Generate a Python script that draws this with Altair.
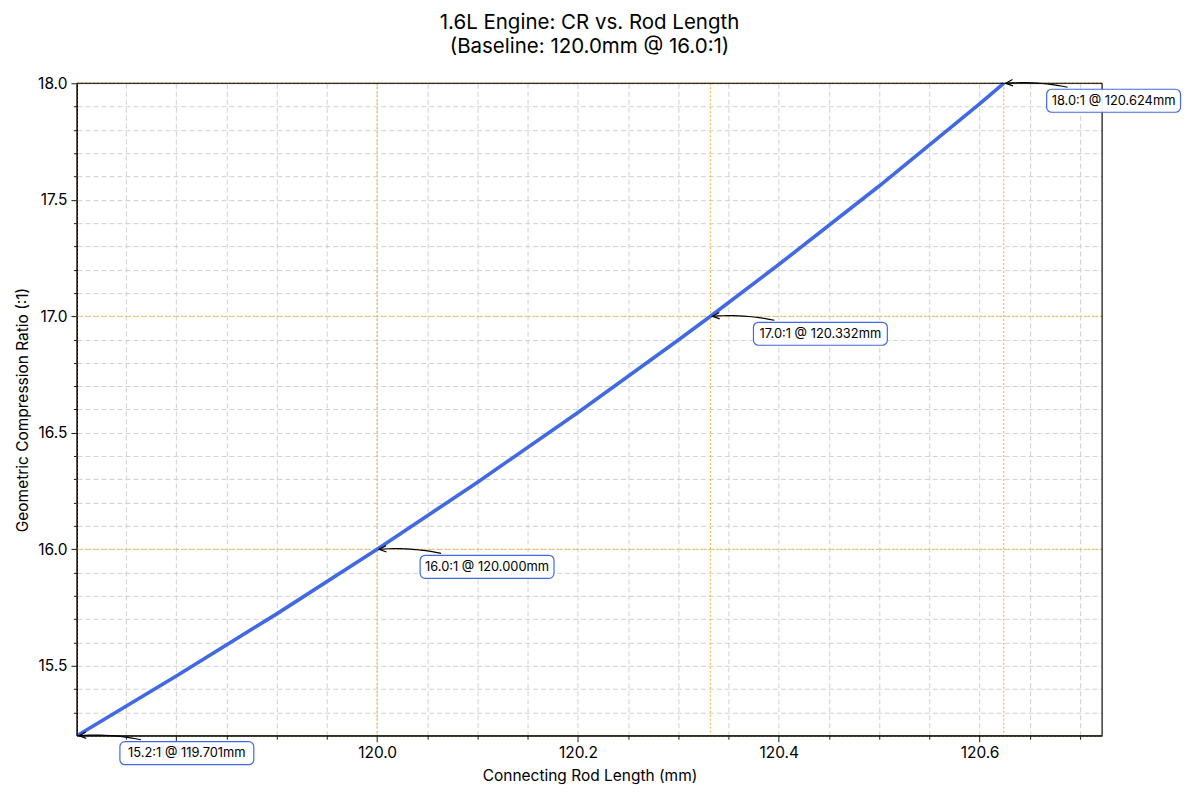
import math
import altair as alt
import pandas as pd

# ---------------- data ----------------
rod_mm = [119.701, 119.8, 119.9, 120.0, 120.1, 120.2, 120.3, 120.332, 120.4, 120.5, 120.6, 120.624]
cr_ratio = [15.2, 15.456, 15.723, 16.0, 16.288, 16.587, 16.898, 17.0, 17.222, 17.559, 17.912, 18.0]

mark_rod = [119.701, 120.0, 120.332, 120.624]
mark_cr = [15.2, 16.0, 17.0, 18.0]
mark_labels = ["15.2:1 @ 119.701mm", "16.0:1 @ 120.000mm", "17.0:1 @ 120.332mm", "18.0:1 @ 120.624mm"]

x_ticks = [119.75, 119.8, 119.85, 119.9, 119.95, 120.0, 120.05, 120.1, 120.15, 120.2,
           120.25, 120.3, 120.35, 120.4, 120.45, 120.5, 120.55, 120.6, 120.65, 120.7]
x_labelled = ["119.80", "120.00", "120.20", "120.40", "120.60"]
y_ticks = [15.3, 15.4, 15.5, 15.6, 15.7, 15.8, 15.9, 16.0, 16.1, 16.2, 16.3, 16.4, 16.5,
           16.6, 16.7, 16.8, 16.9, 17.0, 17.1, 17.2, 17.3, 17.4, 17.5, 17.6, 17.7, 17.8, 17.9, 18.0]
y_labelled = ["15.5", "16.0", "16.5", "17.0", "17.5", "18.0"]

X_DOMAIN = [119.701, 120.722]
Y_DOMAIN = [15.2, 18.0]
W, H = 1026, 653
FONT = "Inter"
BLUE = "#4169E1"
ORANGE = "#F2B449"

line_df = pd.DataFrame({"rod": rod_mm, "cr": cr_ratio})
pts_df = pd.DataFrame({"rod": mark_rod, "cr": mark_cr, "label": mark_labels})

# ---------------- annotation arrow geometry (pixel offsets -> data) ----------------
def to_px(x, y):
    return ((x - X_DOMAIN[0]) / (X_DOMAIN[1] - X_DOMAIN[0]) * W,
            (Y_DOMAIN[1] - y) / (Y_DOMAIN[1] - Y_DOMAIN[0]) * H)

def to_data(px, py):
    return (X_DOMAIN[0] + px / W * (X_DOMAIN[1] - X_DOMAIN[0]),
            Y_DOMAIN[1] - py / H * (Y_DOMAIN[1] - Y_DOMAIN[0]))

arrow_rows, head_rows = [], []
for lab, x, y in zip(mark_labels, mark_rod, mark_cr):
    px, py = to_px(x, y)
    tx, ty = px + 64, py + 4          # tail at the box
    hx, hy = px + 2, py               # head at the point
    dx, dy = hx - tx, hy - ty
    dist = math.hypot(dx, dy)
    mx, my = (tx + hx) / 2, (ty + hy) / 2
    nx, ny = dy / dist, -dx / dist
    if ny > 0:
        nx, ny = -nx, -ny
    cx, cy = mx + 0.07 * dist * nx, my + 0.07 * dist * ny
    n = 12
    for i in range(n + 1):
        t = i / n
        bx = (1 - t) ** 2 * tx + 2 * (1 - t) * t * cx + t ** 2 * hx
        by = (1 - t) ** 2 * ty + 2 * (1 - t) * t * cy + t ** 2 * hy
        rx, ry = to_data(bx, by)
        arrow_rows.append({"label": lab, "seq": i, "rod": rx, "cr": ry})
    ang = math.degrees(math.atan2(hy - cy, hx - cx)) % 360
    hxd, hyd = to_data(hx, hy)
    head_rows.append({"label": lab, "rod": hxd, "cr": hyd, "ang": ang})

arrow_df = pd.DataFrame(arrow_rows)
head_df = pd.DataFrame(head_rows)

# ---------------- axes ----------------
x_major = "indexof(" + str(x_labelled) + ", format(datum.value, '.2f')) >= 0"
y_major = "indexof(" + str(y_labelled) + ", format(datum.value, '.1f')) >= 0"

common = dict(
    labelOverlap=False, tickColor="black", tickWidth=0.9,
    grid=True, gridColor="#cccccc", gridDash=[5, 3], gridWidth=0.9,
    domainColor="black", labelFont=FONT, labelFontSize=15.5, labelColor="black",
    titleFont=FONT, titleFontSize=15.5, titleFontWeight="normal", titleColor="black",
)
x_axis = alt.Axis(
    values=x_ticks,
    labelExpr=f"{x_major} ? format(datum.value, '.1f') : ''",
    tickSize={"condition": {"test": x_major, "value": 6}, "value": 3.5},
    labelPadding=4, titlePadding=7, **common)
y_axis = alt.Axis(
    values=y_ticks,
    labelExpr=f"{y_major} ? format(datum.value, '.1f') : ''",
    tickSize={"condition": {"test": y_major, "value": 6}, "value": 3.5},
    labelPadding=4, titlePadding=7, **common)

xs = alt.Scale(domain=X_DOMAIN, nice=False, zero=False)
ys = alt.Scale(domain=Y_DOMAIN, nice=False, zero=False)

X = alt.X("rod:Q", scale=xs, axis=x_axis, title="Connecting Rod Length (mm)")
Y = alt.Y("cr:Q", scale=ys, axis=y_axis, title="Geometric Compression Ratio (:1)")

line = alt.Chart(line_df).mark_line(color=BLUE, strokeWidth=3.6).encode(x=X, y=Y)

vrules = alt.Chart(pts_df).mark_rule(color=ORANGE, strokeDash=[2, 2], strokeWidth=1.3, opacity=0.85).encode(x=X)
hrules = alt.Chart(pts_df).mark_rule(color=ORANGE, strokeDash=[2, 2], strokeWidth=1.3, opacity=0.85).encode(y=Y)

# black frame drawn over the reference lines (like matplotlib spines)
frame_df = pd.DataFrame({"k": [0]})
frame_base = alt.Chart(frame_df).mark_rule(color="black", strokeWidth=1.1, clip=False)
frame = alt.layer(
    frame_base.encode(x=alt.value(0), x2=alt.value(W), y=alt.value(0)),
    frame_base.encode(x=alt.value(0), x2=alt.value(W), y=alt.value(H)),
    frame_base.encode(x=alt.value(0), y=alt.value(0), y2=alt.value(H)),
    frame_base.encode(x=alt.value(W), y=alt.value(0), y2=alt.value(H)),
)

arrows = alt.Chart(arrow_df).mark_line(color="black", strokeWidth=1.2, clip=False).encode(
    x=X, y=Y, detail="label:N", order="seq:Q")

heads = alt.Chart(head_df).mark_point(
    shape="M -1 -0.45 L 0 0 L -1 0.45", filled=False, color="black", strokeWidth=1.2,
    size=200, opacity=1, clip=False).encode(
    x=X, y=Y, angle=alt.Angle("ang:Q", scale=None))

boxes = alt.Chart(pts_df).mark_rect(
    width=134, height=23, xOffset=110, yOffset=17.5, cornerRadius=5,
    fill="white", fillOpacity=0.92, stroke=BLUE, strokeWidth=1.2, clip=False).encode(x=X, y=Y)

texts = alt.Chart(pts_df).mark_text(
    dx=110, dy=17.5, align="center", baseline="middle", font=FONT, fontSize=12.9,
    color="black", clip=False).encode(x=X, y=Y, text="label:N")

chart = alt.layer(vrules, hrules, line, frame, arrows, heads, boxes, texts).properties(
    width=W, height=H,
    title=alt.Title(["1.6L Engine: CR vs. Rod Length", "(Baseline: 120.0mm @ 16.0:1)"],
                    font=FONT, fontSize=20.5, fontWeight="normal", color="black",
                    anchor="middle", offset=19, lineHeight=24),
    autosize=alt.AutoSizeParams(type="none"),
    padding={"left": 69, "top": 75, "right": 90, "bottom": 60},
).configure_view(stroke="black", strokeWidth=1).configure(background="white")

chart.save("out.html", embed_options={"renderer": "svg", "actions": False})
